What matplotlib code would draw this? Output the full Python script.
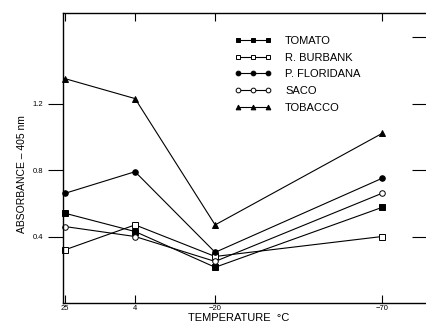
import matplotlib
matplotlib.use("Agg")
import matplotlib.pyplot as plt

plt.rcParams['font.family'] = ['Liberation Sans', 'DejaVu Sans']

temperatures = [25, 4, -20, -70]
temp_labels = ["25", "4", "\u221220", "\u221270"]

tomato = [0.54, 0.43, 0.215, 0.575]
r_burbank = [0.32, 0.47, 0.28, 0.40]
p_floridana = [0.66, 0.79, 0.305, 0.75]
saco = [0.46, 0.40, 0.25, 0.66]
tobacco = [1.35, 1.23, 0.47, 1.02]

series_names = ["TOMATO", "R. BURBANK", "P. FLORIDANA", "SACO", "TOBACCO"]
series_values = [tomato, r_burbank, p_floridana, saco, tobacco]
series_markers = ["s", "s", "o", "o", "^"]
series_faces = ["black", "white", "black", "white", "black"]

ytick_vals = [0.4, 0.8, 1.2]
ytick_labels = ["0.4", "0.8", "1.2"]
right_tick_vals = [0.4, 0.8, 1.2, 1.6]

W, H = 427, 335
fig = plt.figure(figsize=(W / 100, H / 100), dpi=100)
ax = fig.add_axes([63 / W, (H - 303) / H, (440 - 63) / W, 290 / H])

for name, vals, mk, fc in zip(series_names, series_values, series_markers, series_faces):
    ax.plot(temperatures, vals, color="black", lw=0.8, marker=mk,
            markersize=4, markerfacecolor=fc, markeredgecolor="black",
            markeredgewidth=0.7, label=name, clip_on=False)

ax.set_xlim(25.6, -87.4)
ax.set_ylim(0, 1.745)

ax.set_xticks(temperatures)
ax.set_xticklabels(temp_labels, fontsize=5.5)
ax.set_yticks(ytick_vals)
ax.set_yticklabels(ytick_labels, fontsize=5.5)

ax.tick_params(axis="x", direction="in", length=6, width=0.8, pad=1.5, top=True)
ax.tick_params(axis="y", direction="out", length=11, width=0.8, pad=3, right=False)

ax.spines["right"].set_visible(False)
for s in ["left", "top", "bottom"]:
    ax.spines[s].set_linewidth(1.0)

# short inward ticks near the right edge (spine lies outside the picture)
tw = ax.twinx()
tw.set_ylim(ax.get_ylim())
tw.set_yticks(right_tick_vals)
tw.set_yticklabels([])
tw.tick_params(axis="y", direction="in", length=20, width=0.8, left=False, right=True)
tw.tick_params(axis="x", bottom=False, top=False, labelbottom=False)
for sp in tw.spines.values():
    sp.set_visible(False)

ax.set_xlabel("TEMPERATURE  \u00b0C", fontsize=8)
ax.xaxis.set_label_coords((239 - 63) / 377, (303 - 313) / 290)
ax.set_ylabel("ABSORBANCE \u2013 405 nm", fontsize=7.5)
ax.yaxis.set_label_coords((27 - 63) / 377, (303 - 174) / 290)

ax.legend(loc="upper left", bbox_to_anchor=(235 / W, 1 - 36 / H),
          bbox_transform=fig.transFigure, frameon=False, fontsize=8,
          numpoints=3, handlelength=3.3, handletextpad=1.2,
          labelspacing=0.6, borderpad=0, borderaxespad=0, markerscale=0.85)

fig.savefig("out.png", dpi=100)
